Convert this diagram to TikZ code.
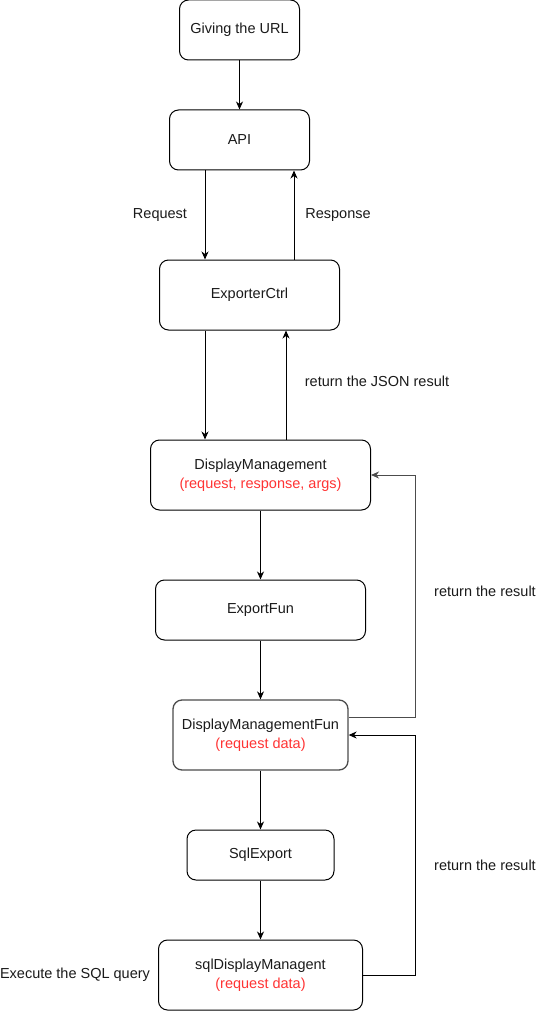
\documentclass[tikz,border=0pt]{standalone}
\usepackage{fontspec}
\setmainfont{Liberation Sans}
\usetikzlibrary{arrows.meta,calc}
\definecolor{txt}{HTML}{1A1A1A}
\definecolor{redtxt}{HTML}{FF3333}
\begin{document}
\begin{tikzpicture}[x=1pt,y=-1pt,
  box/.style={draw=black,line width=1pt,rounded corners=9pt,minimum width=#1,inner sep=0pt,align=center,font=\fontsize{14.5}{19}\selectfont,text=txt},
  lbl/.style={font=\fontsize{14.5}{16}\selectfont,text=txt,inner sep=0pt},
  arr/.style={line width=1pt,-{Stealth[length=8pt,width=7pt,inset=2.5pt]}},
  red/.style={text=redtxt}]
\useasboundingbox (0,0) rectangle (545,1011);
\node[box=120pt,minimum height=60pt] (url) at (239.5,30) {Giving the URL};
\node[box=140pt,minimum height=60pt] (api) at (239.5,140) {API};
\node[box=180pt,minimum height=70pt] (ec) at (249.5,295) {ExporterCtrl};
\node[box=220pt,minimum height=70pt] (dm) at (260.5,475) {DisplayManagement\\\textcolor{redtxt}{(request, response, args)}};
\node[box=210pt,minimum height=60pt] (ef) at (260.5,610) {ExportFun};
\node[box=175pt,minimum height=70pt,draw=black!70,line width=1.3pt] (dmf) at (260.5,735) {DisplayManagementFun\\\textcolor{redtxt}{(request data)}};
\node[box=147pt,minimum height=50pt] (sx) at (260.5,855) {SqlExport};
\node[box=204pt,minimum height=70pt] (sdm) at (260.5,975) {sqlDisplayManagent\\\textcolor{redtxt}{(request data)}};

\node[lbl] (lreq) at (160,215) {Request};
\node[lbl] (lresp) at (338,215) {Response};
\node[lbl] (ljson) at (377,381) {return the JSON result};
\node[lbl] (lr1) at (485,591) {return the result};
\node[lbl] (lr2) at (485,865) {return the result};
\node[lbl] (lsql) at (75,975) {Execute the SQL query};

\draw[arr] (url.south) -- (url.south |- api.north);
\draw[arr] ([xshift=-34.5pt]api.south) -- ([xshift=-34.5pt]api.south |- ec.north);
\draw[arr] ([xshift=44.5pt]ec.north) -- ([xshift=44.5pt]ec.north |- api.south);
\draw[arr] ([xshift=-44.5pt]ec.south) -- ([xshift=-44.5pt]ec.south |- dm.north);
\draw[arr] ([xshift=25.5pt]dm.north) -- ([xshift=25.5pt]dm.north |- ec.south);
\draw[arr] (dm.south) -- (ef.north);
\draw[arr] (ef.south) -- (dmf.north);
\draw[arr] (dmf.south) -- (sx.north);
\draw[arr] (sx.south) -- (sdm.north);
\coordinate (c1) at (415,717.5);
\draw[arr,draw=black!70] (dmf.east |- c1) -- (c1) -- (c1 |- dm.east) -- (dm.east);
\coordinate (c2) at (415,975);
\draw[arr] (sdm.east) -- (c2) -- (c2 |- dmf.east) -- (dmf.east);
\end{tikzpicture}
\end{document}
